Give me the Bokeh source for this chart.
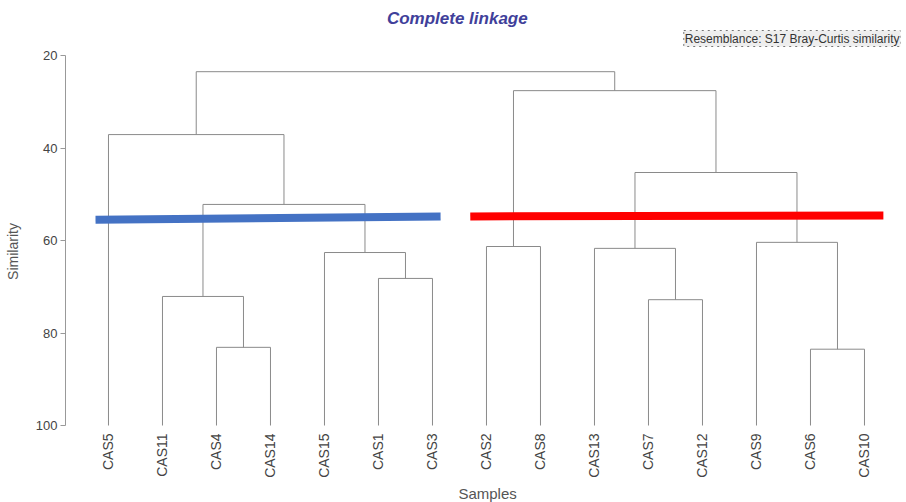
import numpy as np
from bokeh.plotting import figure
from bokeh.models import Range1d, FixedTicker, Label
from bokeh.core.properties import value
from bokeh.embed import file_html
from bokeh.resources import INLINE

# ---- data ----
samples = ["CAS5", "CAS11", "CAS4", "CAS14", "CAS15", "CAS1", "CAS3",
           "CAS2", "CAS8", "CAS13", "CAS7", "CAS12", "CAS9", "CAS6", "CAS10"]
# merges: node ids 0..14 are leaves, 15.. are merges in order
merge_left = [2, 13, 10, 1, 5, 4, 9, 7, 12, 18, 21, 0, 22, 26]
merge_right = [3, 14, 11, 15, 6, 19, 17, 8, 16, 20, 23, 24, 25, 27]
merge_similarity = [83.1, 83.5, 72.8, 72.1, 68.2, 62.6, 61.7, 61.3, 60.4,
                    52.2, 45.3, 37.1, 27.6, 23.5]
y_ticks = [20, 40, 60, 80, 100]
blue_cut_x = [-0.24, 6.15]
blue_cut_y = [55.5, 54.8]
red_cut_x = [6.70, 14.35]
red_cut_y = [54.8, 54.6]

# ---- dendrogram geometry from merges ----
leaf_sim = 100.0
node_x = list(range(len(samples)))
node_h = [leaf_sim] * len(samples)
x0, y0, x1, y1 = [], [], [], []
for l, r, h in zip(merge_left, merge_right, merge_similarity):
    for c in (l, r):
        x0.append(node_x[c]); y0.append(node_h[c]); x1.append(node_x[c]); y1.append(h)
    x0.append(node_x[l]); y0.append(h); x1.append(node_x[r]); y1.append(h)
    node_x.append((node_x[l] + node_x[r]) / 2.0)
    node_h.append(h)

# frame covers whole canvas height; 20..100 maps to pixels 55..425
PX_PER_UNIT = 370.0 / 80.0
y_top = 20 - 55 / PX_PER_UNIT
y_bot = 100 + 77 / PX_PER_UNIT

p = figure(width=906, height=502, output_backend="svg", toolbar_location=None,
           x_range=Range1d(-0.796, 14.667), y_range=Range1d(y_bot, y_top),
           x_axis_location=None,
           min_border_left=65, min_border_right=6, min_border_top=0,
           min_border_bottom=0)
p.outline_line_color = None
p.xgrid.visible = False
p.ygrid.visible = False
p.background_fill_color = "white"
p.border_fill_color = "white"

p.segment(x0=x0, y0=y0, x1=x1, y1=y1, line_color="#8a8a8a", line_width=1)

p.line(blue_cut_x, blue_cut_y, line_color="#4472C4", line_width=8)
p.line(red_cut_x, red_cut_y, line_color="#FF0000", line_width=8)

# y axis
ya = p.yaxis[0]
ya.bounds = (min(y_ticks), max(y_ticks))
ya.ticker = FixedTicker(ticks=y_ticks)
ya.axis_line_color = "#999999"
ya.major_tick_line_color = "#999999"
ya.major_tick_out = 5
ya.major_tick_in = 0
ya.minor_tick_line_color = None
ya.major_label_text_font = "Liberation Sans"
ya.major_label_text_font_size = "13px"
ya.major_label_text_color = "#444444"
ya.major_label_standoff = 3
ya.axis_label = "Similarity"
ya.axis_label_text_font = "Liberation Sans"
ya.axis_label_text_font_size = "14px"
ya.axis_label_text_font_style = "normal"
ya.axis_label_text_color = "#555555"
ya.axis_label_standoff = 12

# sample labels (vertical, below the leaves)
p.text(x=list(range(len(samples))), y=[leaf_sim + 8 / PX_PER_UNIT] * len(samples),
       text=samples, angle=np.pi / 2, text_align="right", text_baseline="middle",
       text_font=value("Liberation Sans"), text_font_size="14px",
       text_color="#444444")

p.add_layout(Label(x=7.02, y=100 + 68 / PX_PER_UNIT, text="Samples",
                   text_align="center", text_baseline="middle",
                   text_font="Liberation Sans", text_font_size="15px",
                   text_color="#555555"))

# title and resemblance box
p.add_layout(Label(x=6.46, y=20 - 37 / PX_PER_UNIT, text="Complete linkage",
                   text_align="center", text_baseline="middle",
                   text_font="Liberation Sans", text_font_style="bold italic",
                   text_font_size="17px", text_color="#40409a"))
p.add_layout(Label(x=14.667, y=20 - 17 / PX_PER_UNIT,
                   text="Resemblance: S17 Bray-Curtis similarity",
                   text_align="right", text_baseline="middle",
                   text_font="Liberation Sans", text_font_size="12px",
                   text_color="#333333", background_fill_color="#eeeeee",
                   border_line_color="#777777", border_line_dash="dotted",
                   padding=1))

open("out.html", "w").write(file_html(p, INLINE))
